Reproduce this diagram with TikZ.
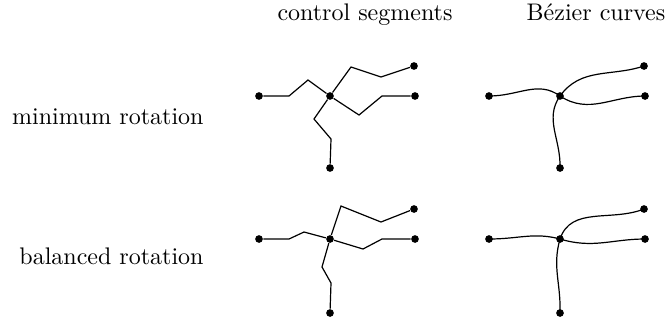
\documentclass[tikz,border=0pt]{standalone}
\begin{document}
\begin{tikzpicture}[x=0.4167pt,y=-0.4167pt,
  seg/.style={line width=0.5pt},
  dot/.style={circle,fill,inner sep=0pt,minimum size=3.2pt},
  lbl/.style={inner sep=0pt,font=\normalsize}]
\useasboundingbox (0,0) rectangle (667,320);

% headings and labels
\node[lbl,anchor=base] (h1) at (365,20) {control segments};
\node[lbl,anchor=base] (h2) at (596,20) {B\'ezier curves};
\node[lbl,anchor=base east] (r1) at (204,124) {minimum rotation};
\node[lbl,anchor=base east] (r2) at (204,264) {balanced rotation};

% ---------- top row: minimum rotation ----------
% control segments
\node[dot] (OA) at (330,96) {};
\node[dot] (LA) at (259,96) {};
\node[dot] (UA) at (414,66) {};
\node[dot] (RA) at (415,96) {};
\node[dot] (DA) at (330,168) {};
\coordinate (la1) at (289,96);  \coordinate (la2) at (308,80);
\coordinate (ua1) at (351,67);  \coordinate (ua2) at (381,77);
\coordinate (ra1) at (359,115); \coordinate (ra2) at (382,96);
\coordinate (da1) at (314,119); \coordinate (da2) at (331,139);
\draw[seg] (LA) -- (la1) -- (la2) -- (OA);
\draw[seg] (OA) -- (ua1) -- (ua2) -- (UA);
\draw[seg] (OA) -- (ra1) -- (ra2) -- (RA);
\draw[seg] (OA) -- (da1) -- (da2) -- (DA);

% Bezier curves
\node[dot] (OB) at (560,96) {};
\node[dot] (LB) at (489,96) {};
\node[dot] (UB) at (644,66) {};
\node[dot] (RB) at (645,96) {};
\node[dot] (DB) at (560,168) {};
\coordinate (lb1) at (519,96);  \coordinate (lb2) at (538,80);
\coordinate (ub1) at (581,67);  \coordinate (ub2) at (611,77);
\coordinate (rb1) at (589,115); \coordinate (rb2) at (612,96);
\coordinate (db1) at (544,119); \coordinate (db2) at (561,139);
\draw[seg] (LB.center) .. controls (lb1) and (lb2) .. (OB.center);
\draw[seg] (OB.center) .. controls (ub1) and (ub2) .. (UB.center);
\draw[seg] (OB.center) .. controls (rb1) and (rb2) .. (RB.center);
\draw[seg] (OB.center) .. controls (db1) and (db2) .. (DB.center);

% ---------- bottom row: balanced rotation ----------
\node[dot] (OC) at (330,239) {};
\node[dot] (LC) at (259,239) {};
\node[dot] (UC) at (414,209) {};
\node[dot] (RC) at (415,239) {};
\node[dot] (DC) at (330,313) {};
\coordinate (lc1) at (289,239); \coordinate (lc2) at (304,232);
\coordinate (uc1) at (341,206); \coordinate (uc2) at (381,222);
\coordinate (rc1) at (363,249); \coordinate (rc2) at (382,239);
\coordinate (dc1) at (322,267); \coordinate (dc2) at (331,283);
\draw[seg] (LC) -- (lc1) -- (lc2) -- (OC);
\draw[seg] (OC) -- (uc1) -- (uc2) -- (UC);
\draw[seg] (OC) -- (rc1) -- (rc2) -- (RC);
\draw[seg] (OC) -- (dc1) -- (dc2) -- (DC);

\node[dot] (OD) at (560,239) {};
\node[dot] (LD) at (489,239) {};
\node[dot] (UD) at (644,209) {};
\node[dot] (RD) at (645,239) {};
\node[dot] (DD) at (560,313) {};
\coordinate (ld1) at (519,239); \coordinate (ld2) at (534,232);
\coordinate (ud1) at (571,206); \coordinate (ud2) at (611,222);
\coordinate (rd1) at (593,249); \coordinate (rd2) at (612,239);
\coordinate (dd1) at (552,267); \coordinate (dd2) at (561,283);
\draw[seg] (LD.center) .. controls (ld1) and (ld2) .. (OD.center);
\draw[seg] (OD.center) .. controls (ud1) and (ud2) .. (UD.center);
\draw[seg] (OD.center) .. controls (rd1) and (rd2) .. (RD.center);
\draw[seg] (OD.center) .. controls (dd1) and (dd2) .. (DD.center);
\end{tikzpicture}
\end{document}
